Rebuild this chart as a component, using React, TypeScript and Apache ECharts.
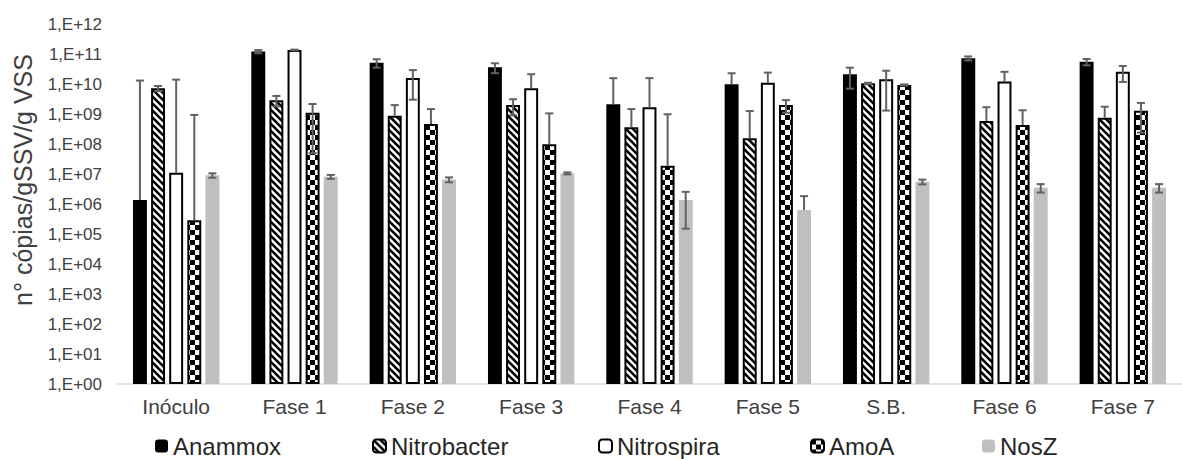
import React, { useEffect, useRef } from "react";
import * as echarts from "echarts";

// Gene copy numbers (copies / g VSS) per sampling phase
const categories = ["Inóculo", "Fase 1", "Fase 2", "Fase 3", "Fase 4", "Fase 5", "S.B.", "Fase 6", "Fase 7"];

const anammox = [1.35e6, 1.2e11, 5.1e10, 3.6e10, 2.1e9, 9.8e9, 2.1e10, 7.2e10, 5.5e10];
const anammoxSd = [1.3e10, 1.5e10, 1.6e10, 1.3e10, 1.35e10, 1.3e10, 1.4e10, 1.1e10, 1.3e10];

const nitrobacter = [7.2e9, 2.9e9, 8.8e8, 2.0e9, 3.6e8, 1.55e8, 1.05e10, 5.8e8, 7.5e8];
const nitrobacterSd = [1.4e9, 1.1e9, 1.1e9, 1.1e9, 1.1e9, 1.1e9, 5e8, 1.1e9, 1.0e9];

const nitrospira = [1.1e7, 1.36e11, 1.6e10, 7.2e9, 1.67e9, 1.1e10, 1.45e10, 1.2e10, 2.57e10];
const nitrospiraSd = [1.4e10, 4e9, 1.3e10, 1.4e10, 1.4e10, 1.3e10, 1.32e10, 1.35e10, 1.4e10];

const amoA = [2.9e5, 1.1e9, 4.6e8, 9.8e7, 1.9e7, 2.0e9, 9.3e9, 4.3e8, 1.29e9];
const amoASd = [9.3e8, 1.05e9, 1.0e9, 9.5e8, 9.6e8, 9e8, 4e8, 9e8, 1.05e9];

const nosZ = [9e6, 8.1e6, 6.5e6, 1.05e7, 1.35e6, 6.3e5, 5.5e6, 3.5e6, 3.5e6];
const nosZSd = [1.5e6, 1.2e6, 1.2e6, 8e5, 1.2e6, 1.2e6, 1e6, 1.1e6, 1.1e6];

// y axis spans 10^0 .. 10^12, one label per decade
const yMinExp = 0;
const yMaxExp = 12;

const FONT = "'Liberation Sans', Arial, sans-serif";
const BAR_CATEGORY_GAP = 0.27;
const BAR_GAP = 0.3;
const N_SERIES = 5;

function makePattern(w: number, h: number, draw: (ctx: CanvasRenderingContext2D) => void) {
  const c = document.createElement("canvas");
  c.width = w;
  c.height = h;
  const ctx = c.getContext("2d") as CanvasRenderingContext2D;
  ctx.fillStyle = "#ffffff";
  ctx.fillRect(0, 0, w, h);
  draw(ctx);
  return { image: c.toDataURL(), imageWidth: w, imageHeight: h, repeat: "repeat" };
}

function stripePattern() {
  const p = 7;
  return makePattern(p, p, (ctx) => {
    ctx.strokeStyle = "#000";
    ctx.lineWidth = 2.6;
    ctx.beginPath();
    ctx.moveTo(-1, -1);
    ctx.lineTo(p + 1, p + 1);
    ctx.moveTo(p - 1, -1);
    ctx.lineTo(p + 1, 1);
    ctx.moveTo(-1, p - 1);
    ctx.lineTo(1, p + 1);
    ctx.stroke();
  });
}

function checkerPattern() {
  const c = 5;
  return makePattern(2 * c, 2 * c, (ctx) => {
    ctx.fillStyle = "#000";
    ctx.fillRect(0, 0, c, c);
    ctx.fillRect(c, c, c, c);
  });
}

function errorSeries(values: number[], sds: number[], idx: number) {
  return {
    type: "custom",
    z: 5,
    silent: true,
    data: values.map((v, i) => [i, v, sds[i]]),
    renderItem: (params: any, api: any) => {
      const cat = api.value(0);
      const v = api.value(1);
      const sd = api.value(2);
      const band = api.size([1, 0])[0];
      const barW = (band * (1 - BAR_CATEGORY_GAP)) / (N_SERIES + (N_SERIES - 1) * BAR_GAP);
      const groupW = barW * N_SERIES + barW * BAR_GAP * (N_SERIES - 1);
      const offset = -groupW / 2 + idx * barW * (1 + BAR_GAP) + barW / 2;
      const pV = api.coord([cat, v]);
      const pUp = api.coord([cat, v + sd]);
      const lo = v - sd;
      const pLo = lo > 0 ? api.coord([cat, lo]) : null;
      const x = pV[0] + offset;
      const cap = 4;
      const style = { stroke: "#616161", lineWidth: 2 };
      const children: any[] = [
        { type: "line", shape: { x1: x, y1: pUp[1], x2: x, y2: pLo ? pLo[1] : pV[1] }, style },
        { type: "line", shape: { x1: x - cap, y1: pUp[1], x2: x + cap, y2: pUp[1] }, style },
      ];
      if (pLo) {
        children.push({ type: "line", shape: { x1: x - cap, y1: pLo[1], x2: x + cap, y2: pLo[1] }, style });
      }
      return { type: "group", children };
    },
  };
}

export default function App() {
  const ref = useRef<HTMLDivElement>(null);

  useEffect(() => {
    if (!ref.current) return;
    const chart = echarts.init(ref.current, null, { renderer: "svg" });

    const barBase = {
      type: "bar",
      barCategoryGap: `${BAR_CATEGORY_GAP * 100}%`,
      barGap: `${BAR_GAP * 100}%`,
    };

    const legendPos = [
      { name: "Anammox", left: 155 },
      { name: "Nitrobacter", left: 372 },
      { name: "Nitrospira", left: 598 },
      { name: "AmoA", left: 810 },
      { name: "NosZ", left: 982 },
    ];

    chart.setOption({
      animation: false,
      backgroundColor: "#ffffff",
      textStyle: { fontFamily: FONT },
      grid: { left: 117, top: 24, width: 1076, height: 360, containLabel: false },
      legend: legendPos.map((l) => ({
        data: [l.name],
        left: l.left,
        top: 434,
        padding: 0,
        itemWidth: 13,
        itemHeight: 13,
        selectedMode: false,
        textStyle: { fontSize: 24, lineHeight: 24, color: "#262626", fontFamily: FONT },
      })),
      xAxis: {
        type: "category",
        data: categories,
        axisLine: { show: true, lineStyle: { color: "#d9d9d9", width: 1.5 } },
        axisTick: { show: false },
        axisLabel: { fontSize: 21, color: "#404040", margin: 12, fontFamily: FONT },
      },
      yAxis: {
        type: "log",
        logBase: 10,
        min: Math.pow(10, yMinExp),
        max: Math.pow(10, yMaxExp),
        interval: 1,
        splitNumber: yMaxExp - yMinExp,
        axisLine: { show: false },
        axisTick: { show: false },
        splitLine: { show: false },
        axisLabel: {
          fontSize: 17,
          color: "#404040",
          margin: 15,
          fontFamily: FONT,
          formatter: (v: number) => {
            const e = Math.round(Math.log10(v));
            return "1,E+" + (e < 10 ? "0" + e : String(e));
          },
        },
      },
      graphic: [
        {
          type: "text",
          x: 23,
          y: 180,
          rotation: Math.PI / 2,
          style: {
            text: "n° cópias/gSSV/g VSS",
            font: `25px ${FONT}`,
            fill: "#404040",
            align: "center",
            verticalAlign: "middle",
          },
        },
      ],
      series: [
        { ...barBase, name: "Anammox", data: anammox, itemStyle: { color: "#000000" } },
        {
          ...barBase,
          name: "Nitrobacter",
          data: nitrobacter,
          itemStyle: { color: stripePattern(), borderColor: "#000000", borderWidth: 2 },
        },
        {
          ...barBase,
          name: "Nitrospira",
          data: nitrospira,
          itemStyle: { color: "#ffffff", borderColor: "#000000", borderWidth: 2 },
        },
        {
          ...barBase,
          name: "AmoA",
          data: amoA,
          itemStyle: { color: checkerPattern(), borderColor: "#000000", borderWidth: 2 },
        },
        { ...barBase, name: "NosZ", data: nosZ, itemStyle: { color: "#bfbfbf" } },
        errorSeries(anammox, anammoxSd, 0),
        errorSeries(nitrobacter, nitrobacterSd, 1),
        errorSeries(nitrospira, nitrospiraSd, 2),
        errorSeries(amoA, amoASd, 3),
        errorSeries(nosZ, nosZSd, 4),
      ],
    });

    return () => chart.dispose();
  }, []);

  return (
    <div
      ref={ref}
      style={{ position: "absolute", left: 0, top: 0, width: 1182, height: 459, overflow: "hidden" }}
    />
  );
}
